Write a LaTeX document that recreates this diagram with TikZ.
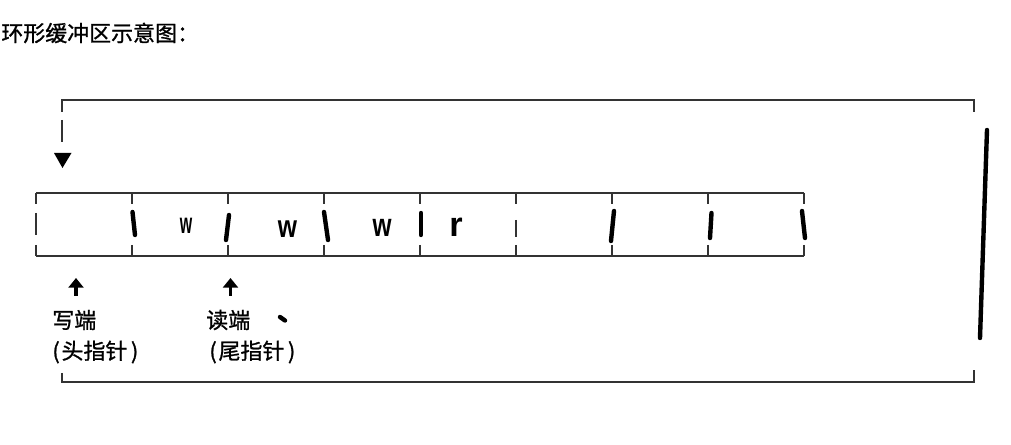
\documentclass[tikz,border=0pt]{standalone}
\usepackage{fontspec}
\usepackage{graphicx}
\newfontfamily\cjk[FakeBold=1]{Noto Sans CJK SC}
\newfontfamily\lat{Liberation Sans Bold}
\usetikzlibrary{arrows.meta}

\begin{document}
\begin{tikzpicture}[x=0.02cm, y=-0.02cm,
    thinline/.style={line width=1pt, black!80},
    thickpen/.style={line width=2.5pt, line cap=round},
    lbl/.style={inner sep=0pt, anchor=west, font=\cjk\fontsize{12.5}{15}\selectfont},
    cellchar/.style={inner sep=0pt, font=\lat\fontsize{#1}{#1}\selectfont},
    ptr/.style={line width=1.8pt, -{Triangle[width=8.5pt, length=5.5pt]}}
]
    \useasboundingbox (0,0) rectangle (1011,445);

    \node[lbl] (title) at (1,33) {环形缓冲区示意图：};

    % top bracket
    \draw[thinline] (62,112) |- (974,100) -- (974,112);
    \draw[thinline] (62,120) -- (62,142);
    \fill (54,153) -- (71.5,153) -- (62.5,168) -- cycle;

    % buffer cells
    \draw[thinline] (36,193) -- (804,193) (36,256) -- (804,256);
    \draw[thinline] (36,193) -- (36,204) (36,213) -- (36,235) (36,245) -- (36,256);
    \foreach \x in {132,228,...,804}
        \draw[thinline] (\x,193) -- (\x,204) (\x,245) -- (\x,256);
    \draw[thinline] (516,220) -- (516,237);
    \foreach \a/\b/\c/\d in {132.5/212/135/235, 229/215/226/240, 324/212/328/240,
        421/213/421/235, 614/211/611/241, 711.5/213/710/238, 802/211/805/238}
        \draw[thickpen] (\a,\b) -- (\c,\d);

    \node[cellchar=16.5] (c2) at (186,225.5) {\scalebox{0.55}[1]{w}};
    \node[cellchar=18] (c3) at (287.5,228.7) {\scalebox{0.78}[1]{w}};
    \node[cellchar=18.5] (c4) at (382,227.5) {\scalebox{0.75}[1]{w}};
    \node[cellchar=19.5] (c5) at (456,227) {r};

    % pointers
    \coordinate (wbase) at (76,296);
    \coordinate (wtip) at (76,278);
    \coordinate (rbase) at (230.5,296);
    \coordinate (rtip) at (230.5,278);
    \draw[ptr] (wbase) -- (wtip);
    \draw[ptr] (rbase) -- (rtip);

    \node[lbl] (wend) at (52,320) {写端};
    \node[lbl] (whead) at (52,352) {(\kern1pt头指针\kern2pt)};
    \node[lbl] (rend) at (206,320) {读端};
    \node[lbl] (rtail) at (209,352) {(\kern1pt尾指针\kern2pt)};
    \draw[thickpen] (280,317) -- (285,320.5);

    % bottom bracket
    \draw[thinline] (62,373) |- (974,382) -- (974,370);
    \draw[thickpen] (987,130) -- (980,338);
\end{tikzpicture}
\end{document}
